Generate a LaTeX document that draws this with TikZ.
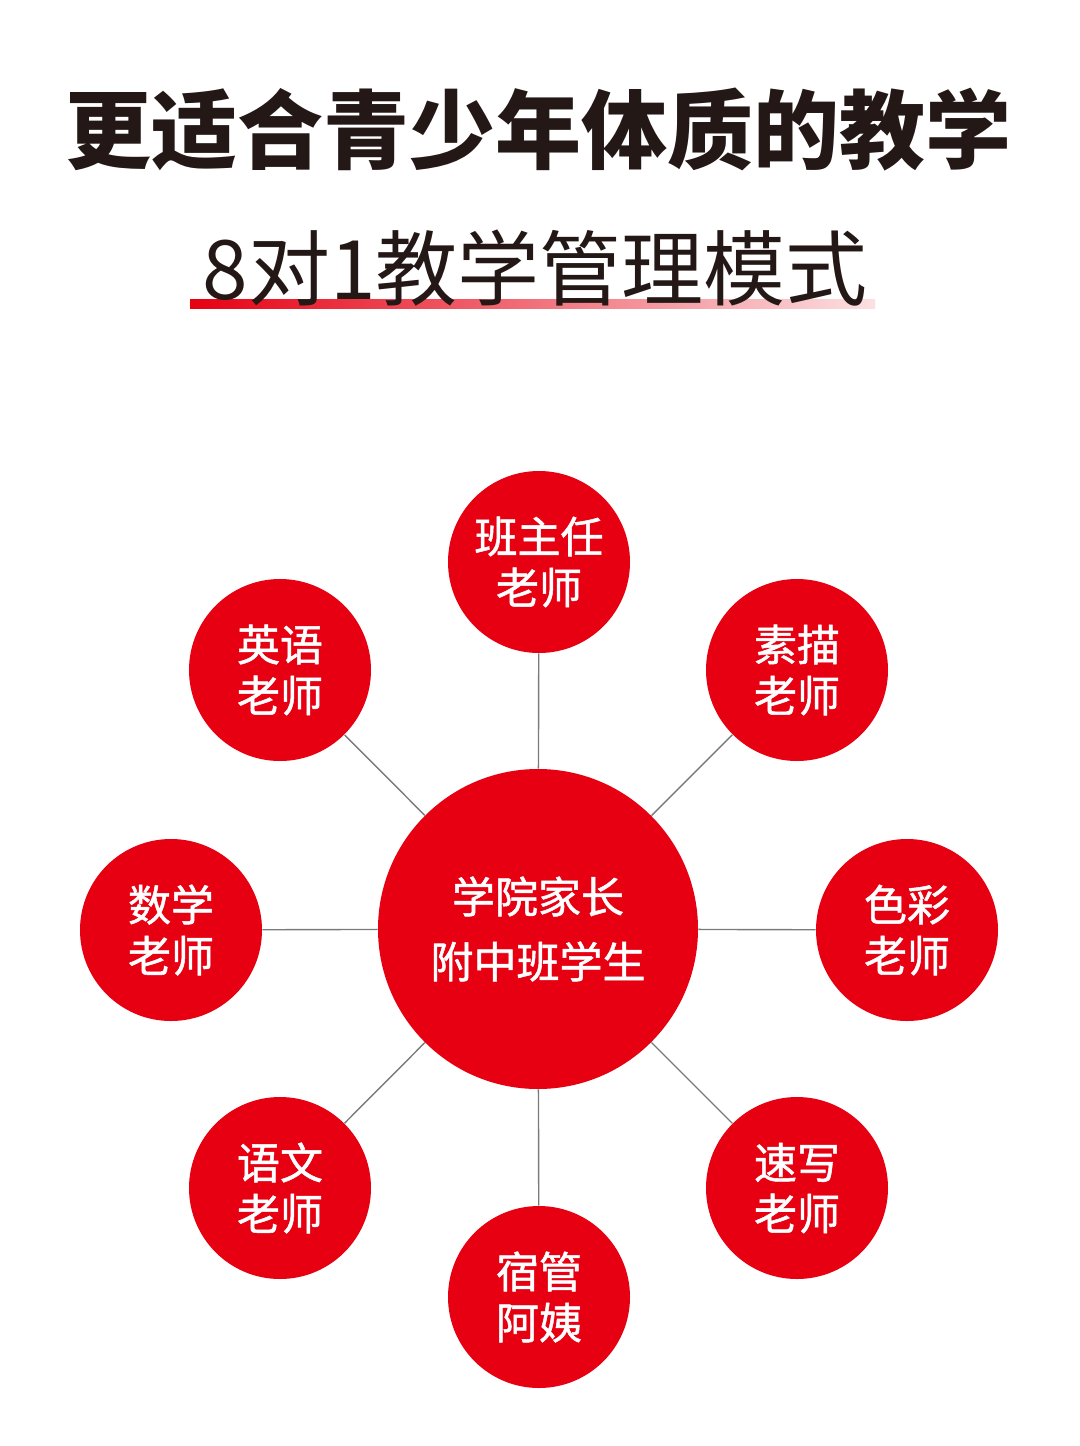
\documentclass[tikz,border=0pt]{standalone}
\usepackage{fontspec}
\setmainfont{Noto Sans CJK SC}
\newfontfamily\cjkmed[FakeBold=1.2]{Noto Sans CJK SC}
\usetikzlibrary{shadings}
\definecolor{cred}{HTML}{E60012}
\definecolor{lgray}{HTML}{7A7A7A}
\definecolor{tdark}{HTML}{231815}
\tikzset{
  sat/.style={circle, fill=cred, minimum size=91pt, inner sep=0pt, text=white, align=center,
    font=\cjkmed\fontsize{21.5pt}{25.5pt}\selectfont},
  hub/.style={circle, fill=cred, minimum size=160pt, inner sep=0pt, text=white, align=center,
    font=\cjkmed\fontsize{21.5pt}{32.5pt}\selectfont},
  conn/.style={draw=lgray, line width=0.7pt},
  ttl/.style={text=tdark, inner sep=0pt, font=\bfseries\fontsize{43pt}{48pt}\selectfont},
  sub/.style={text=tdark, inner sep=0pt, font=\fontsize{41pt}{46pt}\selectfont},
}
\begin{document}
\begin{tikzpicture}[x=0.5pt, y=-0.5pt]
\useasboundingbox (0,0) rectangle (1080,1446);
\fill[white] (0,0) rectangle (1080,1446);
\node[ttl] (title) at (538,130) {更适合青少年体质的教学};
\shade[left color=cred, right color=cred!12] (190,299) rectangle (875,308);
\node[sub] (subtitle) at (535,268) {8对1教学管理模式};

\node[hub] (c) at (538,929) {学院家长\\附中班学生};
\node[sat] (s1) at (539,562) {班主任\\老师};
\node[sat] (s2) at (797,670) {素描\\老师};
\node[sat] (s3) at (907,930) {色彩\\老师};
\node[sat] (s4) at (797,1188) {速写\\老师};
\node[sat] (s5) at (539,1297) {宿管\\阿姨};
\node[sat] (s6) at (280,1188) {语文\\老师};
\node[sat] (s7) at (171,930) {数学\\老师};
\node[sat] (s8) at (280,670) {英语\\老师};

\foreach \s in {s1,s2,s3,s4,s5,s6,s7,s8}
  \draw[conn] (c) -- (\s);
\end{tikzpicture}
\end{document}
